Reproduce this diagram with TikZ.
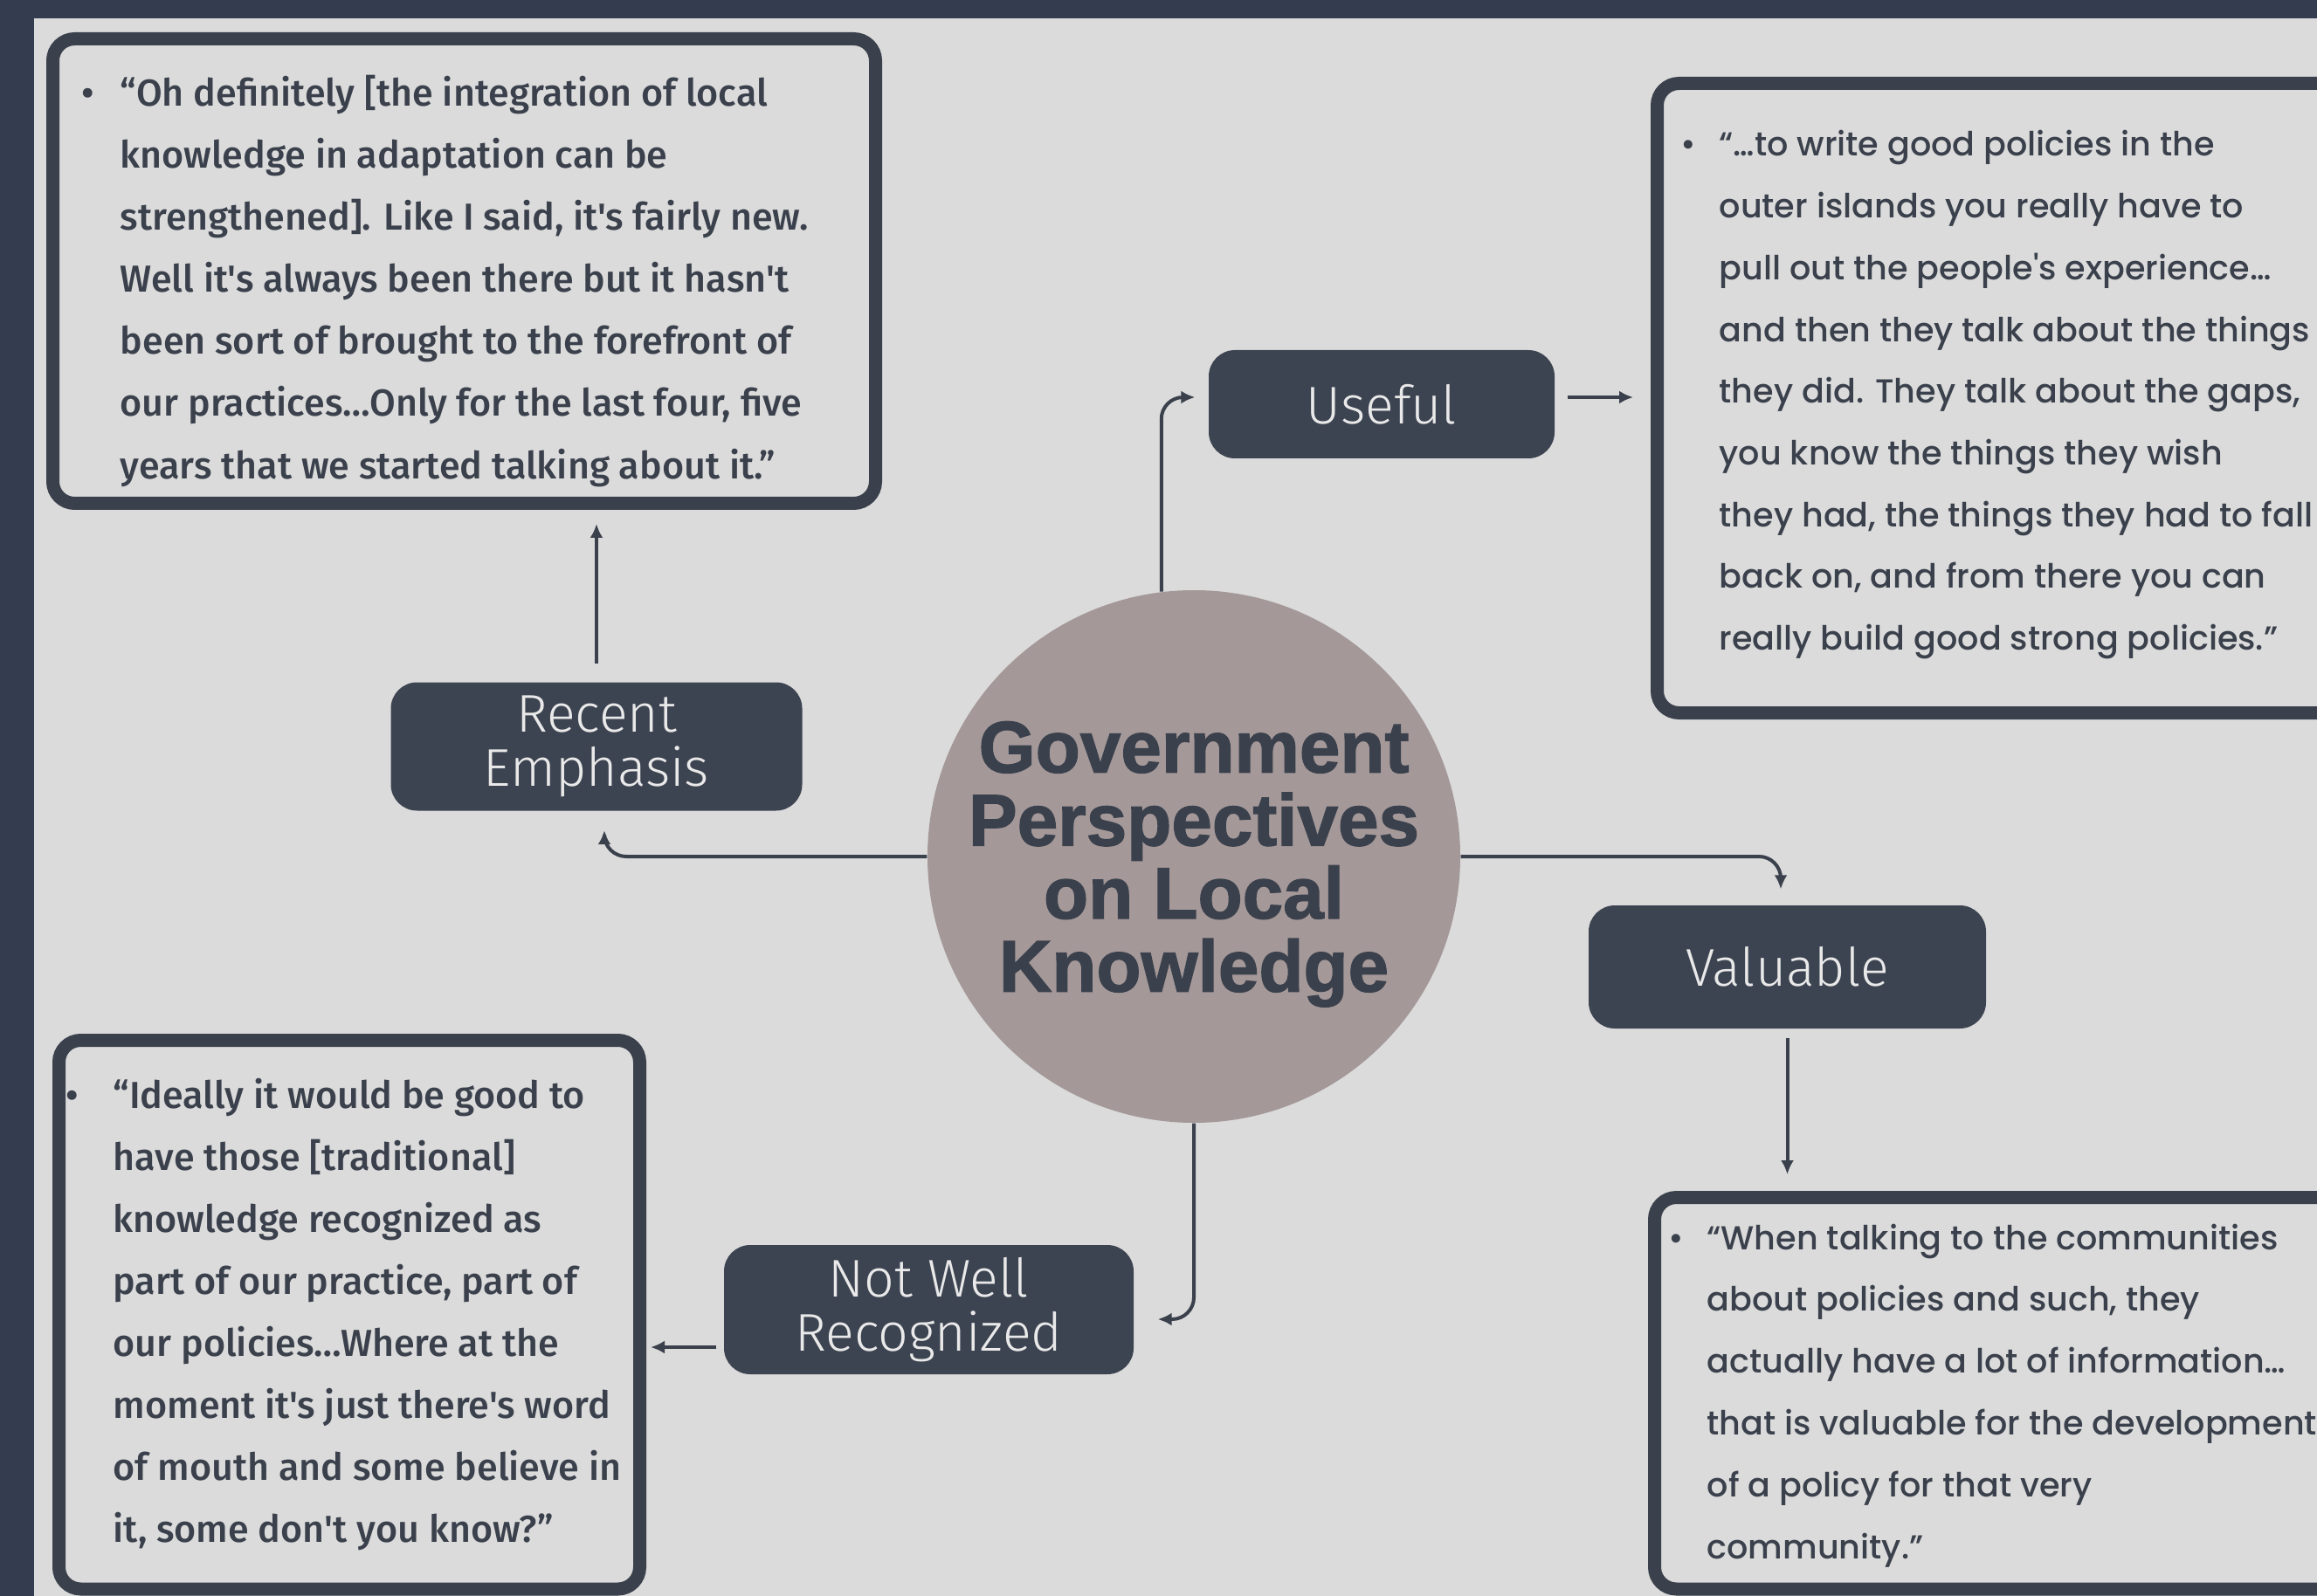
\documentclass[tikz,border=0pt]{standalone}
\usepackage{fontspec}
\setmainfont{Fira Sans}
\newfontfamily\leftquotefont{Fira Sans Medium}
\newfontfamily\rightquotefont{Poppins Medium}
\newfontfamily\tagfont{Fira Sans Light}
\newfontfamily\hubfont{Liberation Sans}[BoldFeatures={FakeBold=1.6}]
\usetikzlibrary{arrows.meta}

\definecolor{frame}{HTML}{333D4F}
\definecolor{paper}{HTML}{DBDBDB}
\definecolor{ink}{HTML}{3B414C}
\definecolor{tagfill}{HTML}{3D4451}
\definecolor{tagtext}{HTML}{E9E9E9}
\definecolor{hubfill}{HTML}{A49899}

\tikzset{
  tag/.style={rounded corners=3mm, fill=tagfill, text=tagtext, align=center, inner sep=0pt,
    font=\tagfont\fontsize{17.3}{17.6}\selectfont},
  quotebox/.style={draw=ink, line width=1.5mm, rounded corners=2.5mm, anchor=north west,
    inner sep=0pt, outer sep=0pt},
  hub/.style={circle, fill=hubfill, minimum size=6.1cm, inner sep=0pt, align=center, text=ink,
    text depth=-1mm, font=\hubfont\bfseries\fontsize{23.8}{23.8}\selectfont},
  conn/.style={draw=ink, line width=0.4mm, -{Latex[length=1.6mm,width=1.5mm]}},
  lquote/.style={anchor=base west, inner sep=0pt, text=ink, font=\leftquotefont\fontsize{12.25}{15}\selectfont},
  rquote/.style={anchor=base west, inner sep=0pt, text=ink, font=\rightquotefont\fontsize{10.85}{14}\selectfont},
}

\begin{document}
\begin{tikzpicture}
    \useasboundingbox (0,0) rectangle (26.53,-18.28);
    \clip (0,0) rectangle (26.53,-18.28);
    \fill[frame] (0,0) rectangle (26.53,-18.28);
    \fill[paper] (0.39,-0.21) rectangle (26.53,-18.28);

    \node[quotebox, minimum width=9.42cm, minimum height=5.32cm]  (tl) at (0.605,-0.445)  {};
    \node[quotebox, minimum width=8.5cm,  minimum height=7.21cm]  (tr) at (18.975,-0.955) {};
    \node[quotebox, minimum width=6.65cm, minimum height=6.285cm] (bl) at (0.675,-11.915) {};
    \node[quotebox, minimum width=8.555cm,minimum height=4.485cm] (br) at (18.945,-13.715) {};

    \node[hub] (hub) at (13.67,-9.81) {Government\\Perspectives\\on Local\\Knowledge};

    \node[tag, minimum width=3.96cm, minimum height=1.24cm] (useful)   at (15.82,-4.63)   {Useful};
    \node[tag, minimum width=4.71cm, minimum height=1.47cm] (recent)   at (6.83,-8.55)    {Recent\\Emphasis};
    \node[tag, minimum width=4.55cm, minimum height=1.41cm] (valuable) at (20.465,-11.075) {Valuable};
    \node[tag, minimum width=4.69cm, minimum height=1.48cm] (notwell)  at (10.635,-15.0)  {Not Well\\Recognized};

    \draw[conn, rounded corners=2.5mm] (hub.97) |- ([xshift=-1.5mm,yshift=0.8mm]useful.west);
    \draw[conn, shorten <=1.4mm, shorten >=2.75mm] ([yshift=0.8mm]useful.east) -- ([yshift=0.8mm]useful.east -| tr.west);
    \draw[conn, rounded corners=2.5mm] (hub.west) -| ([xshift=0.9mm,yshift=-2.2mm]recent.south);
    \draw[conn, shorten <=2.1mm, shorten >=2.35mm] (recent.north) -- (recent.north |- tl.south);
    \draw[conn, rounded corners=2.5mm] (hub.east) -| ([xshift=-0.75mm,yshift=1.8mm]valuable.north);
    \draw[conn, shorten <=1mm, shorten >=2.65mm] (valuable.south) -- (valuable.south |- br.north);
    \draw[conn, rounded corners=2.5mm] (hub.south) |- ([xshift=2.7mm,yshift=-1.1mm]notwell.east);
    \draw[conn, shorten <=0.8mm, shorten >=1.25mm] ([yshift=-4.3mm]notwell.west) -- ([yshift=-4.3mm]notwell.west -| bl.east);

    \node[lquote] (tl-dot) at (0.93,-1.22) {\textbullet};
    \foreach \qline [count=\i] in {{“Oh definitely [the integration of local},
        {knowledge in adaptation can be},
        {strengthened]. Like I said, it's fairly new.},
        {Well it's always been there but it hasn't},
        {been sort of brought to the forefront of},
        {our practices…Only for the last four, five},
        {years that we started talking about it.”}}
      \node[lquote] (tl-\i) at (1.37,{-1.22-0.71*(\i-1)}) {\qline};

    \node[rquote] (tr-dot) at (19.24,-1.79) {\textbullet};
    \foreach \qline [count=\i] in {{“…to write good policies in the},
        {outer islands you really have to},
        {pull out the people's experience…},
        {and then they talk about the things},
        {they did. They talk about the gaps,},
        {you know the things they wish},
        {they had, the things they had to fall},
        {back on, and from there you can},
        {really build good strong policies.”}}
      \node[rquote] (tr-\i) at (19.68,{-1.79-0.707*(\i-1)}) {\qline};

    \node[lquote] (bl-dot) at (0.75,-12.69) {\textbullet};
    \foreach \qline [count=\i] in {{“Ideally it would be good to},
        {have those [traditional]},
        {knowledge recognized as},
        {part of our practice, part of},
        {our policies…Where at the},
        {moment it's just there's word},
        {of mouth and some believe in},
        {it, some don't you know?”}}
      \node[lquote] (bl-\i) at (1.29,{-12.69-0.71*(\i-1)}) {\qline};

    \node[rquote] (br-dot) at (19.10,-14.31) {\textbullet};
    \foreach \qline [count=\i] in {{“When talking to the communities},
        {about policies and such, they},
        {actually have a lot of information…},
        {that is valuable for the development},
        {of a policy for that very},
        {community.”}}
      \node[rquote] (br-\i) at (19.54,{-14.31-0.708*(\i-1)}) {\qline};
\end{tikzpicture}
\end{document}
